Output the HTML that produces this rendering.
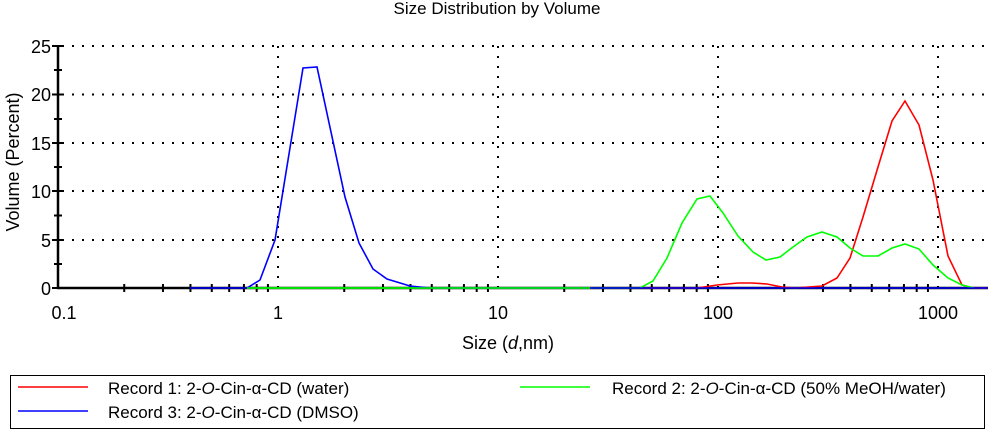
<!DOCTYPE html>
<html><head><meta charset="utf-8"><style>
body{margin:0;background:#fff;}
svg{display:block;font-family:"Liberation Sans",Arial,sans-serif;}
</style></head><body>
<svg width="990" height="431" viewBox="0 0 990 431">
<text x="497" y="14" font-size="17" text-anchor="middle">Size Distribution by Volume</text>
<!-- grid -->
<g stroke="#000" stroke-width="2" stroke-dasharray="2,8" fill="none">
<line x1="62" y1="46" x2="988" y2="46"/>
<line x1="62" y1="94.5" x2="988" y2="94.5"/>
<line x1="62" y1="143" x2="988" y2="143"/>
<line x1="62" y1="191" x2="988" y2="191"/>
<line x1="62" y1="240" x2="988" y2="240"/>
<line x1="278" y1="46" x2="278" y2="288"/>
<line x1="498" y1="46" x2="498" y2="288"/>
<line x1="718" y1="46" x2="718" y2="288"/>
<line x1="938" y1="46" x2="938" y2="288"/>
</g>
<!-- axes -->
<g stroke="#000" stroke-width="2.5">
<line x1="58" y1="45" x2="58" y2="289"/>
<line x1="57" y1="288" x2="988" y2="288"/>
</g>
<g stroke="#000" stroke-width="2">
<line x1="52" y1="46" x2="64" y2="46"/><line x1="52" y1="94.5" x2="64" y2="94.5"/><line x1="52" y1="143" x2="64" y2="143"/><line x1="52" y1="191" x2="64" y2="191"/><line x1="52" y1="240" x2="64" y2="240"/><line x1="52" y1="288" x2="64" y2="288"/>
<line x1="54" y1="70" x2="62" y2="70"/><line x1="54" y1="119" x2="62" y2="119"/><line x1="54" y1="167" x2="62" y2="167"/><line x1="54" y1="215.5" x2="62" y2="215.5"/><line x1="54" y1="264" x2="62" y2="264"/>
</g>
<g stroke="#000" stroke-width="2" id="xt"></g>
<g font-size="18" text-anchor="end">
<text x="51" y="53">25</text><text x="51" y="101">20</text><text x="51" y="150">15</text><text x="51" y="198">10</text><text x="51" y="247">5</text><text x="51" y="295">0</text>
</g>
<g font-size="18" text-anchor="middle">
<text x="64" y="319">0.1</text><text x="278" y="319">1</text><text x="498" y="319">10</text><text x="718" y="319">100</text><text x="938" y="319">1000</text>
</g>
<text x="508" y="349" font-size="18" text-anchor="middle">Size (<tspan font-style="italic">d</tspan>,nm)</text>
<text transform="translate(19,162) rotate(-90)" font-size="18" text-anchor="middle">Volume (Percent)</text>
<!-- series -->
<polyline fill="none" stroke="#f00" stroke-width="1.6" points="640,288 697,288 717,285 738,283 752,283 767,284 782,287 795,288 822,286 837,278 850,258 863,217 878,167 892,121 905,101 919,125 933,180 948,256 962,285 974,288 988,288"/>
<polyline fill="none" stroke="#0f0" stroke-width="1.6" points="247,288 640,288 653,281 667,258 682,223 697,199 710,196 723,213 738,236 753,252 766,260 780,257 793,247 807,237 822,232 837,237 850,248 863,256 878,256 892,248 905,244 919,249 933,265 948,278 962,285 974,288"/>
<polyline fill="none" stroke="#00f" stroke-width="1.6" points="190,288 247,288 260,280 275,240 303,68 317,67 345,197 359,243 373,269 387,279 410,286 430,288 988,288"/>
<line x1="247" y1="288" x2="590" y2="288" stroke="#0f0" stroke-width="1.6"/>
<!-- legend -->
<rect x="10.5" y="375.5" width="974" height="53" fill="none" stroke="#000" stroke-width="1"/>
<line x1="18" y1="387" x2="88" y2="387" stroke="#f00" stroke-width="1.6"/>
<line x1="520" y1="387" x2="590" y2="387" stroke="#0f0" stroke-width="1.6"/>
<line x1="18" y1="411" x2="88" y2="411" stroke="#00f" stroke-width="1.6"/>
<g font-size="17">
<text x="108" y="394">Record 1: 2-<tspan font-style="italic">O</tspan>-Cin-α-CD (water)</text>
<text x="612" y="394">Record 2: 2-<tspan font-style="italic">O</tspan>-Cin-α-CD (50% MeOH/water)</text>
<text x="108" y="418">Record 3: 2-<tspan font-style="italic">O</tspan>-Cin-α-CD (DMSO)</text>
</g>
</svg>
<script>
var g=document.getElementById('xt'),s='';
for(var d=-1;d<=3;d++){for(var m=2;m<=9;m++){var x=58+(d+1+Math.log10(m))*220;if(x>988)continue;s+='<line x1="'+x+'" y1="284" x2="'+x+'" y2="292"/>';}}
g.innerHTML=s;
</script>
</body></html>
